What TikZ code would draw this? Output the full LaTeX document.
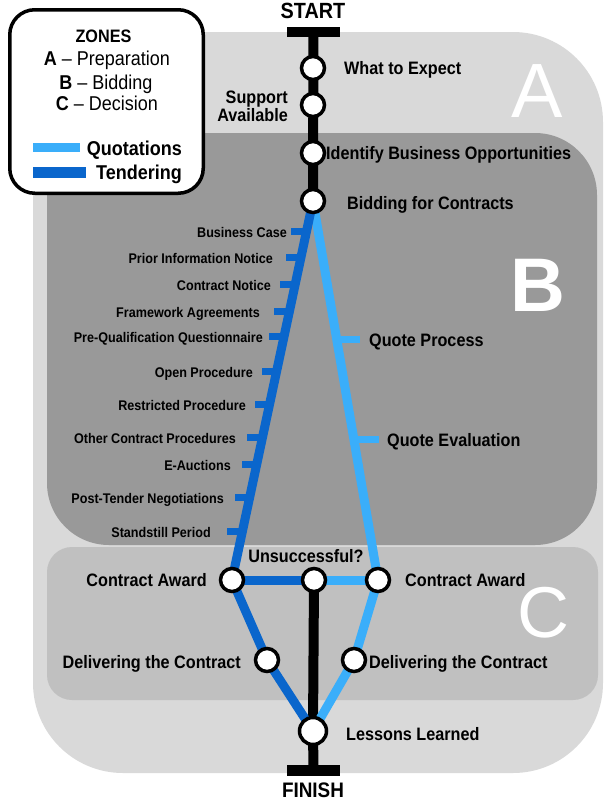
\documentclass[tikz,border=0pt]{standalone}
\usepackage{fontspec}
\setmainfont{Liberation Sans}[FakeStretch=0.9]
\newfontfamily\bigfont{Liberation Sans}
\definecolor{zoneA}{HTML}{D9D9D9}
\definecolor{zoneB}{HTML}{999999}
\definecolor{zoneC}{HTML}{C0C0C0}
\definecolor{qblue}{HTML}{3AAEFA}
\definecolor{tblue}{HTML}{0A66CC}
\pgfdeclarelayer{zones}
\pgfdeclarelayer{lines}
\pgfsetlayers{zones,lines,main}
\begin{document}
\begin{tikzpicture}[x=1pt,y=-1pt,
  stn/.style={circle, draw=black, fill=white, line width=3.5pt, minimum size=23pt, inner sep=0pt},
  bigstn/.style={stn, minimum size=27pt},
  bar/.style={fill=black, inner sep=0pt, minimum width=53pt, minimum height=10pt},
  lblbase/.style={font=\fontsize{18}{18}\selectfont\bfseries, inner sep=0pt},
  lbl/.style={lblbase, text height=13pt, text depth=4pt, yshift=-2pt},
  sml/.style={font=\fontsize{14}{16}\selectfont\bfseries, inner sep=0pt, text height=10pt, text depth=3pt, yshift=-1.5pt, anchor=east},
  leg/.style={font=\fontsize{20}{22}\selectfont, inner sep=0pt, text height=14pt, text depth=4pt, yshift=-2pt},
  zonelet/.style={text=white, inner sep=0pt},
  blk/.style={line width=10pt, black},
  tline/.style={line width=9pt, tblue, line join=round},
  qline/.style={line width=9pt, qblue, line join=round},
  ttick/.style={line width=7pt, tblue},
  qtick/.style={line width=7pt, qblue}]
\useasboundingbox (0,0) rectangle (606,801);

% zones
\begin{pgfonlayer}{zones}
\fill[zoneA, rounded corners=90pt] (33,32) rectangle (603,773);
\fill[zoneB, rounded corners=62pt] (47,133) rectangle (597,545);
\fill[zoneC, rounded corners=25pt] (47,547) rectangle (598,700);
\end{pgfonlayer}

\node[zonelet, font=\bigfont\fontsize{77}{77}\selectfont] (za) at (537,91) {A};
\node[zonelet, font=\bigfont\bfseries\fontsize{76}{76}\selectfont] (zb) at (538,285) {B};
\node[zonelet, font=\bigfont\fontsize{72}{72}\selectfont] (zc) at (543,613) {C};

% legend
\node[draw=black, line width=3.5pt, fill=white, rounded corners=25pt, minimum width=193.5pt, minimum height=183.5pt, anchor=north west, inner sep=0pt, outer sep=0pt] (legend) at (9.75,9.75) {};
\node[leg, font=\fontsize{18}{20}\selectfont\bfseries] (lz) at (103.5,35) {ZONES};
\node[leg] (la) at (107,58) {\textbf{A} – Preparation};
\node[leg] (lb) at (106,82) {\textbf{B} – Bidding};
\node[leg] (lc) at (107,103) {\textbf{C} – Decision};
\fill[qblue] (33,143) rectangle (80,152);
\fill[tblue] (33,167) rectangle (86,178);
\node[leg, anchor=east, font=\fontsize{20}{22}\selectfont\bfseries] (lq) at (182,148) {Quotations};
\node[leg, anchor=east, font=\fontsize{20}{22}\selectfont\bfseries] (lt) at (182,172) {Tendering};

% bars and stations
\node[bar] (sbar) at (313.5,32) {};
\node[bar, minimum height=11pt] (fbar) at (313.5,770) {};
\node[stn] (wte) at (313,68) {};
\node[stn] (sup) at (313,105) {};
\node[stn] (ibo) at (313,153) {};
\node[stn] (bid) at (313,201) {};
\node[stn] (cal) at (232,580) {};
\node[stn] (uns) at (314,580) {};
\node[stn] (car) at (378,580) {};
\node[stn] (dcl) at (267,660) {};
\node[stn] (dcr) at (354,660) {};
\node[bigstn] (les) at (313,731) {};

% lines
\begin{pgfonlayer}{lines}
\draw[blk] (sbar.center) -- (bid.center);
\draw[qline] (bid.center) -- (car.center);
\draw[tline] (bid.center) -- (cal.center);
\draw[tline] (cal.center) -- (uns.center);
\draw[qline] (uns.center) -- (car.center);
\draw[blk] (uns.center) -- (les.center) -- (fbar.center);
\draw[tline] (cal.center) -- (dcl.center) -- (les.center);
\draw[qline] (car.center) -- (dcr.center) -- (les.center);
\path (bid.center) -- (cal.center)
  coordinate[pos=0.0816] (k1)
  coordinate[pos=0.1500] (k2)
  coordinate[pos=0.2211] (k3)
  coordinate[pos=0.2921] (k4)
  coordinate[pos=0.3579] (k5)
  coordinate[pos=0.4500] (k6)
  coordinate[pos=0.5368] (k7)
  coordinate[pos=0.6237] (k8)
  coordinate[pos=0.6947] (k9)
  coordinate[pos=0.7816] (k10)
  coordinate[pos=0.8711] (k11);
\foreach \k in {k1,k2,k3,k4,k5,k6,k7,k8,k9,k10,k11}
  \draw[ttick] (\k) -- ++(-15,0);
\path (bid.center) -- (car.center)
  coordinate[pos=0.3658] (q1)
  coordinate[pos=0.6289] (q2);
\draw[qtick] (q1) -- ++(23,0);
\draw[qtick] (q2) -- ++(25,0);
\end{pgfonlayer}

% tick labels
\node[sml] (t1) at (287,232) {Business Case};
\node[sml] (t2) at (273,258) {Prior Information Notice};
\node[sml] (t3) at (271,285) {Contract Notice};
\node[sml] (t4) at (260,312) {Framework Agreements};
\node[sml] (t5) at (263,337) {Pre-Qualification Questionnaire};
\node[sml] (t6) at (253,372) {Open Procedure};
\node[sml] (t7) at (246,405) {Restricted Procedure};
\node[sml] (t8) at (236,438) {Other Contract Procedures};
\node[sml] (t9) at (231,465) {E-Auctions};
\node[sml] (t10) at (224,498) {Post-Tender Negotiations};
\node[sml] (t11) at (211,532) {Standstill Period};
\node[lbl, anchor=west] (qp) at (369,340) {Quote Process};
\node[lbl, anchor=west] (qe) at (387,440) {Quote Evaluation};

% station labels
\node[font=\fontsize{22}{24}\selectfont\bfseries, inner sep=0pt] (start) at (313,11) {START};
\node[font=\fontsize{21}{24}\selectfont\bfseries, inner sep=0pt] (finish) at (313,790) {FINISH};
\node[lbl, anchor=west] (lwte) at (344,68) {What to Expect};
\node[lblbase, anchor=east, align=right] (lsup) at (288,106) {Support\\Available};
\node[lbl, anchor=west] (libo) at (326,153) {Identify Business Opportunities};
\node[lbl, anchor=west] (lbid) at (347,203) {Bidding for Contracts};
\node[lbl] (luns) at (306,556) {Unsuccessful?};
\node[lbl, anchor=east] (lcal) at (207,580) {Contract Award};
\node[lbl, anchor=west] (lcar) at (405,580) {Contract Award};
\node[lbl, anchor=east] (ldcl) at (241,662) {Delivering the Contract};
\node[lbl, anchor=west] (ldcr) at (369,662) {Delivering the Contract};
\node[lbl, anchor=west] (lles) at (346,734) {Lessons Learned};
\end{tikzpicture}
\end{document}
